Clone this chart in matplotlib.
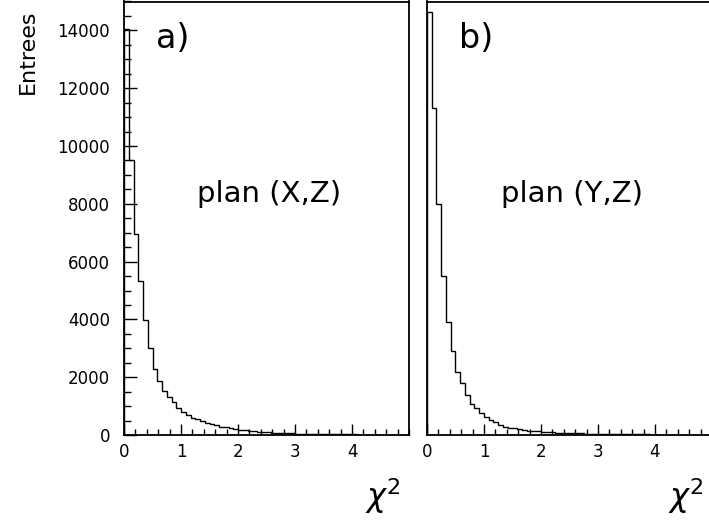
import numpy as np
import matplotlib
matplotlib.use("Agg")
import matplotlib.pyplot as plt
from matplotlib.ticker import MultipleLocator

# ---- data (entries per bin, 60 bins over chi2 in [0, 5]) ----
chi2_min, chi2_max, n_bins = 0.0, 5.0, 60
counts_xz = [14050, 9500, 6950, 5340, 3985, 3004, 2275, 1883, 1536, 1328, 1143, 924,
             808, 693, 600, 560, 474, 420, 380, 330, 290, 260, 230, 200,
             180, 160, 145, 130, 115, 100, 95, 85, 75, 70, 60, 55,
             50, 45, 42, 38, 35, 32, 30, 28, 25, 22, 20, 20,
             18, 16, 15, 14, 13, 12, 11, 10, 10, 9, 8, 8]
counts_yz = [14650, 11320, 7990, 5510, 3905, 2910, 2194, 1790, 1386, 1062, 924, 751,
             635, 520, 439, 346, 289, 250, 231, 200, 173, 155, 140, 125,
             112, 100, 92, 84, 76, 70, 64, 58, 53, 49, 45, 41,
             38, 35, 32, 30, 28, 26, 24, 22, 20, 19, 18, 17,
             16, 15, 14, 13, 12, 11, 10, 10, 9, 9, 8, 8]
panel_tags = ["a)", "b)"]
panel_titles = ["plan (X,Z)", "plan (Y,Z)"]
y_label = "Entrees"
x_label = r"$\chi^2$"
x_ticks = [0, 1, 2, 3, 4]
y_ticks = [0, 2000, 4000, 6000, 8000, 10000, 12000, 14000]

edges = np.linspace(chi2_min, chi2_max, n_bins + 1)

W, H = 709, 522
fig = plt.figure(figsize=(W / 100, H / 100), dpi=100)

def frac(x0, y_top, w, y_bot):
    return [x0 / W, (H - y_bot) / H, w / W, (y_bot - y_top) / H]

ax_l = fig.add_axes(frac(124, 1.5, 285, 435))
ax_r = fig.add_axes(frac(427, 1.5, 285, 435))

for i, (ax, counts) in enumerate(zip([ax_l, ax_r], [counts_xz, counts_yz])):
    ax.stairs(counts, edges, color="black", linewidth=1.0, baseline=0)
    ax.set_xlim(chi2_min, chi2_max)
    ax.set_ylim(0, 15000)
    for s in ax.spines.values():
        s.set_linewidth(1.3)
    ax.set_xticks(x_ticks)
    ax.xaxis.set_minor_locator(MultipleLocator(0.2))
    ax.tick_params(axis="x", which="major", direction="in", length=8, width=1.0,
                   labelsize=12, pad=6, top=False)
    ax.tick_params(axis="x", which="minor", direction="in", length=4, width=1.0, top=False)
    ax.text(0.172, 0.915, panel_tags[i], transform=ax.transAxes, fontsize=24,
            ha="center", va="center")
    ax.text(0.51, 0.555, panel_titles[i], transform=ax.transAxes, fontsize=21,
            ha="center", va="center")
    ax.text(0.97, -0.14, x_label, transform=ax.transAxes, fontsize=23,
            ha="right", va="center")

ax_l.set_yticks(y_ticks)
ax_l.yaxis.set_minor_locator(MultipleLocator(500))
ax_l.tick_params(axis="y", which="major", direction="in", length=9, width=1.0,
                 labelsize=12, pad=10, right=False)
ax_l.tick_params(axis="y", which="minor", direction="in", length=5, width=1.0, right=False)
ax_r.set_yticks([])
ax_r.yaxis.set_minor_locator(plt.NullLocator())

fig.text(28 / W, 1 - 52 / H, y_label, rotation=90, fontsize=16, ha="center", va="center")

fig.savefig("out.png", dpi=100)
